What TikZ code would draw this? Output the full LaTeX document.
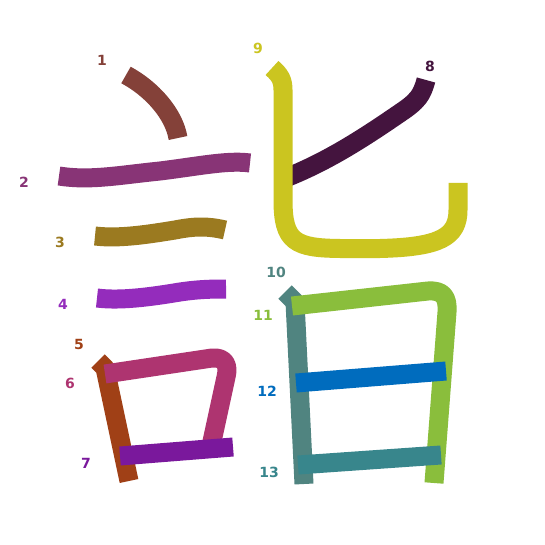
\documentclass[tikz,border=0pt]{standalone}
\usepackage{fontspec}
\setmainfont{DejaVu Sans}
\begin{document}
\begin{tikzpicture}[x=1pt,y=-1pt,
  stk/.style={line width=19pt,line cap=butt,line join=round},
  lbl/.style={font=\bfseries\fontsize{14}{14}\selectfont,inner sep=0pt}]
\definecolor{c1}{RGB}{132,65,57}
\definecolor{c2}{RGB}{136,52,118}
\definecolor{c3}{RGB}{155,122,32}
\definecolor{c4}{RGB}{148,44,188}
\definecolor{c5}{RGB}{160,64,22}
\definecolor{c6}{RGB}{174,52,112}
\definecolor{c7}{RGB}{122,24,156}
\definecolor{c8}{RGB}{68,20,62}
\definecolor{c9}{RGB}{203,197,32}
\definecolor{c10}{RGB}{80,132,128}
\definecolor{c11}{RGB}{138,190,60}
\definecolor{c12}{RGB}{0,108,190}
\definecolor{c13}{RGB}{56,134,140}
\useasboundingbox[fill=white] (0,0) rectangle (545,545);
% stroke 1
\draw[stk,c1] (126,75) .. controls (152,89) and (174,114) .. (178,138);
% stroke 2
\draw[stk,c2] (59,176) .. controls (90,181) and (120,175) .. (160,171) .. controls (200,166) and (228,160) .. (250,163);
% stroke 3
\draw[stk,c3] (95,236) .. controls (120,239) and (150,234) .. (175,230) .. controls (195,226) and (208,226) .. (225,230);
% stroke 4
\draw[stk,c4] (97,298) .. controls (120,301) and (150,297) .. (180,292) .. controls (200,289) and (215,289) .. (226,289);
% stroke 5
\draw[stk,c5] (98,361) -- (105,368) -- (129,481);
% stroke 6
\draw[stk,c6] (105,374) -- (212,358) .. controls (225,357) and (229,365) .. (226,377) -- (211,446);
% stroke 7
\draw[stk,c7] (120,456) -- (233,447);
% stroke 8
\draw[stk,c8] (426,80) .. controls (422,95) and (418,101) .. (400,113) .. controls (365,137) and (330,160) .. (288,177);
% stroke 9
\draw[stk,c9] (272,68) .. controls (280,75) and (283,80) .. (283,90) -- (283,200) .. controls (283,242) and (295,248) .. (340,248.5) -- (380,248.5) .. controls (440,247) and (458,237) .. (458,210) -- (458,183);
% stroke 10
\draw[stk,c10] (285,292) -- (295,302) -- (304,484);
% stroke 11
\draw[stk,c11] (292,306) -- (428,291) .. controls (443,290) and (448,297) .. (447,312) -- (434,483);
% stroke 12
\draw[stk,c12] (296,383) -- (446,371);
% stroke 13
\draw[stk,c13] (298,465) -- (441,455);
% labels
\node[lbl,text=c1] (l1) at (102,60) {1};
\node[lbl,text=c2] (l2) at (24,182) {2};
\node[lbl,text=c3] (l3) at (60,242) {3};
\node[lbl,text=c4] (l4) at (63,304) {4};
\node[lbl,text=c5] (l5) at (79,344) {5};
\node[lbl,text=c6] (l6) at (70,383) {6};
\node[lbl,text=c7] (l7) at (86,463) {7};
\node[lbl,text=c8] (l8) at (430,66) {8};
\node[lbl,text=c9] (l9) at (258,48) {9};
\node[lbl,text=c10] (l10) at (276,272) {10};
\node[lbl,text=c11] (l11) at (263,315) {11};
\node[lbl,text=c12] (l12) at (267,391) {12};
\node[lbl,text=c13] (l13) at (269,472) {13};
\end{tikzpicture}
\end{document}
